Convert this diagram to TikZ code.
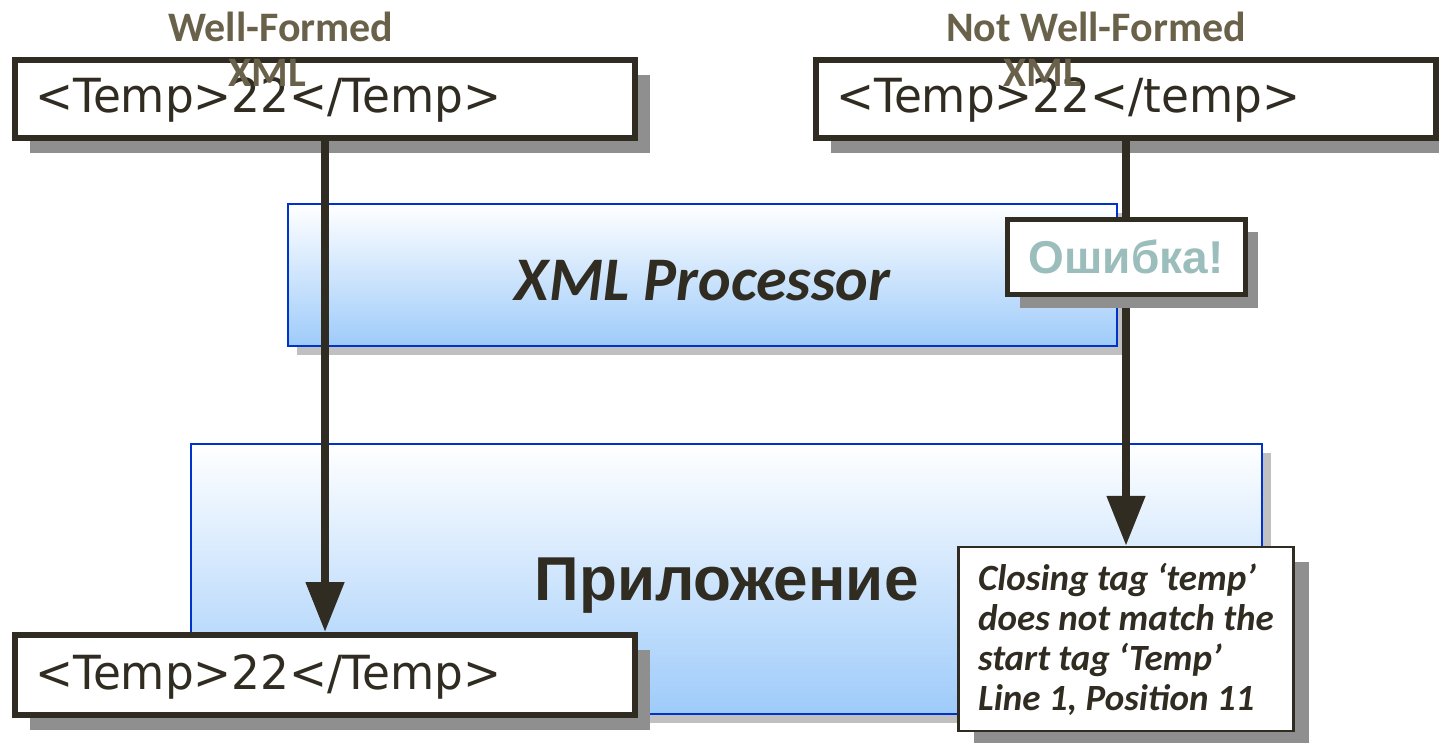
\documentclass[tikz,border=0pt]{standalone}
\usepackage{fontspec}
\setmainfont{Carlito}
\newfontfamily\tagfont[FakeStretch=0.965]{DejaVu Sans}
\newfontfamily\rufont{Liberation Sans}
\usetikzlibrary{arrows.meta,shadows}
\definecolor{ink}{RGB}{49,44,33}
\definecolor{labelbrown}{RGB}{106,97,74}
\definecolor{errteal}{RGB}{155,190,188}
\definecolor{darkshadow}{RGB}{143,143,143}
\definecolor{lightshadow}{RGB}{192,192,192}
\definecolor{boxblue}{RGB}{0,51,204}
\definecolor{fadeblue}{RGB}{158,203,250}

\begin{document}
\begin{tikzpicture}[x=1pt,y=-1pt,
    darkdrop/.style={drop shadow={shadow xshift=#1, shadow yshift=-#1, fill=darkshadow, opacity=1}},
    tagbox/.style={draw=ink, line width=6pt, fill=white, minimum width=620pt, minimum height=78pt,
        text width=580pt, align=left, inner xsep=0pt, text=ink, text height=34pt, text depth=6pt,
        font=\tagfont\fontsize{47}{50}\selectfont, darkdrop=15pt},
    layerbox/.style={draw=boxblue, line width=2.5pt, top color=white, bottom color=fadeblue, text=ink,
        drop shadow={shadow xshift=9pt, shadow yshift=-9pt, fill=lightshadow, opacity=1}},
    wflabel/.style={anchor=north west, inner sep=0pt, align=left, text=labelbrown,
        font=\fontsize{42}{45}\selectfont\bfseries},
    flow/.style={draw=ink, line width=8pt, -{Triangle[length=50pt,width=37pt]}}
  ]
  \useasboundingbox (0,0) rectangle (1439,743);

  \node[layerbox, minimum width=829pt, minimum height=142pt, text height=50pt, text depth=0pt,
    font=\bfseries\itshape\fontsize{62}{66}\selectfont] (proc) at (702.5,275) {XML Processor};
  \node[layerbox, minimum width=1071pt, minimum height=270pt, text height=55pt, text depth=13pt,
    font=\rufont\bfseries\fontsize{62}{66}\selectfont] (app) at (726.5,579) {Приложение};

  \node[tagbox] (wfsrc) at (325,99) {<Temp>22</Temp>};
  \node[tagbox] (nwfsrc) at (1126,99) {<Temp>22</temp>};
  \node[tagbox, minimum height=80pt] (wfout) at (325,675) {<Temp>22</Temp>};

  \node[wflabel] (wflab) at (168,12) {Well-Formed\\\hspace*{60pt}XML};
  \node[wflabel] (nwflab) at (946,12) {Not Well-Formed\\\hspace*{57pt}XML};

  \node[draw=ink, line width=2.5pt, fill=white, minimum width=335pt, minimum height=184pt,
    align=left, text=ink, font=\bfseries\itshape\fontsize{37}{40}\selectfont, darkdrop=15pt]
    (msg) at (1126,639) {Closing tag ‘temp’\\does not match the\\start tag ‘Temp’\\Line 1, Position 11};

  \draw[flow] (wfsrc.south) -- (wfout.north);
  \draw[flow] (nwfsrc.south) -- (msg.north);

  \node[draw=ink, line width=5pt, fill=white, minimum width=238pt, minimum height=75pt,
    text=errteal, font=\rufont\bfseries\fontsize{46}{50}\selectfont, darkdrop=13pt]
    (err) at (1126,257) {Ошибка!};
\end{tikzpicture}
\end{document}
